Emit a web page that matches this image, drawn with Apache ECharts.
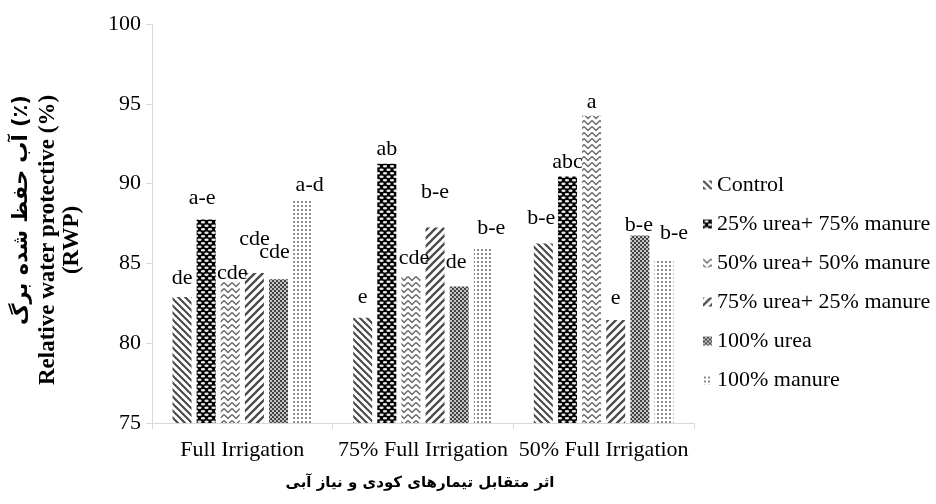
<!DOCTYPE html>
<html>
<head>
<meta charset="utf-8">
<script src="https://cdn.jsdelivr.net/npm/echarts@6/dist/echarts.min.js"></script>
<style>html,body{margin:0;padding:0;background:#fff}#c{width:936px;height:504px}</style>
</head>
<body>
<div id="c"></div>
<script>
const categories = ['Full Irrigation', '75% Full Irrigation', '50% Full Irrigation'];
const seriesNames = ['Control', '25% urea+ 75% manure', '50% urea+ 50% manure', '75% urea+ 25% manure', '100% urea', '100% manure'];
const control   = [82.9, 81.6, 86.25];
const u25m75    = [87.75, 91.25, 90.45];
const u50m50    = [83.9, 84.25, 94.25];
const u75m25    = [84.4, 87.25, 81.45];
const urea100   = [84.0, 83.55, 86.75];
const manure100 = [88.95, 86.0, 85.2];
const letters = [
  ['de', 'e', 'b-e'],
  ['a-e', 'ab', 'abc'],
  ['cde', 'cde', 'a'],
  ['cde', 'b-e', 'e'],
  ['cde', 'de', 'b-e'],
  ['a-d', 'b-e', 'b-e']
];
const yTicks = [75, 80, 85, 90, 95, 100];

// label placement tweaks (not data)
const labelOffsets = [
  [[0,-8],[0,-9],[-2,-14]],
  [[-4,-10],[0,-3],[0,-3]],
  [[2,3],[3,-6],[0,-3]],
  [[0,-23],[0,-24],[0,-11]],
  [[-4,-16],[-3,-13],[-1,1]],
  [[7,-4],[8,-8],[10,-16]]
];

function mk(w, h, draw) {
  const c = document.createElement('canvas');
  c.width = w; c.height = h;
  const g = c.getContext('2d');
  draw(g, w, h);
  return c;
}
const patBack = mk(7, 7, (g, s) => {
  g.fillStyle = '#fff'; g.fillRect(0, 0, s, s);
  g.strokeStyle = '#4a4a4a'; g.lineWidth = 2.1;
  for (let k = -1; k <= 1; k++) { g.beginPath(); g.moveTo(k * s - 1, -1); g.lineTo(k * s + s + 1, s + 1); g.stroke(); }
});
const patOval = mk(7, 7, (g) => {
  g.fillStyle = '#000'; g.fillRect(0, 0, 7, 7);
  g.fillStyle = '#e8e8e8';
  const ov = (x, y) => { g.beginPath(); g.ellipse(x, y, 2.2, 1.2, 0, 0, Math.PI * 2); g.fill(); };
  ov(3.5, 1.75); ov(0, 5.25); ov(7, 5.25);
});
const patZig = mk(8, 6, (g) => {
  g.fillStyle = '#fff'; g.fillRect(0, 0, 8, 6);
  g.strokeStyle = '#6a6a6a'; g.lineWidth = 1.5;
  g.beginPath(); g.moveTo(0, 0.5); g.lineTo(4, 4.5); g.lineTo(8, 0.5); g.stroke();
  g.beginPath(); g.moveTo(0, 6.5); g.lineTo(4, 10.5); g.lineTo(8, 6.5); g.stroke();
  g.beginPath(); g.moveTo(0, -5.5); g.lineTo(4, -1.5); g.lineTo(8, -5.5); g.stroke();
});
const patFwd = mk(8, 8, (g, s) => {
  g.fillStyle = '#fff'; g.fillRect(0, 0, s, s);
  g.strokeStyle = '#4a4a4a'; g.lineWidth = 2.3;
  for (let k = -1; k <= 1; k++) { g.beginPath(); g.moveTo(k * s - 1, s + 1); g.lineTo(k * s + s + 1, -1); g.stroke(); }
});
const patCheck = mk(4, 4, (g) => {
  g.fillStyle = '#c4c4c4'; g.fillRect(0, 0, 4, 4);
  g.fillStyle = '#444'; g.fillRect(0, 0, 2, 2); g.fillRect(2, 2, 2, 2);
});
const patDots = mk(4, 4, (g) => {
  g.fillStyle = '#fff'; g.fillRect(0, 0, 4, 4);
  g.fillStyle = '#8c8c8c'; g.fillRect(1, 1, 2, 2);
});
const patterns = [patBack, patOval, patZig, patFwd, patCheck, patDots];
const values = [control, u25m75, u50m50, u75m25, urea100, manure100];

const serif = "'Liberation Serif', 'Times New Roman', serif";

const series = seriesNames.map((name, i) => ({
  name,
  type: 'bar',
  barWidth: 19,
  barGap: '27%',
  itemStyle: { color: { image: patterns[i], repeat: 'repeat' } },
  data: values[i].map((v, j) => ({
    value: v,
    label: {
      show: true, position: 'top', distance: 0,
      offset: labelOffsets[i][j],
      formatter: letters[i][j],
      fontFamily: serif, fontSize: 22, color: '#000'
    }
  }))
}));

const chart = echarts.init(document.getElementById('c'), null, { renderer: 'canvas' });
chart.setOption({
  animation: false,
  backgroundColor: '#fff',
  grid: { left: 152, right: 242, top: 24, bottom: 81 },
  legend: {
    orient: 'vertical', left: 698, top: 169, itemGap: 17,
    itemWidth: 9, itemHeight: 9, icon: 'rect',
    textStyle: { fontFamily: serif, fontSize: 22, color: '#000', lineHeight: 22 },
    data: seriesNames
  },
  xAxis: {
    type: 'category', data: categories,
    axisLine: { lineStyle: { color: '#d9d9d9', width: 1 } },
    axisTick: { show: true, length: 6, lineStyle: { color: '#d9d9d9' } },
    axisLabel: { interval: 0, margin: 16, fontFamily: serif, fontSize: 22, color: '#000' }
  },
  yAxis: {
    type: 'value', min: 75, max: 100, interval: 5,
    axisLine: { show: true, lineStyle: { color: '#d9d9d9', width: 1 } },
    axisTick: { show: true, length: 6, lineStyle: { color: '#d9d9d9' } },
    splitLine: { show: false },
    axisLabel: { margin: 11, fontFamily: serif, fontSize: 22, color: '#000',
      formatter: (v) => yTicks.includes(v) ? String(v) : '' }
  },
  graphic: [
    { type: 'text', x: 22, y: 210, rotation: Math.PI / 2,
      style: { text: 'آب حفظ شده برگ (٪)', align: 'center', verticalAlign: 'middle',
        font: "bold 21px 'DejaVu Sans'", fill: '#000' } },
    { type: 'text', x: 60, y: 240, rotation: Math.PI / 2,
      style: { text: 'Relative water protective (%)\n(RWP)', align: 'center', verticalAlign: 'middle',
        font: "bold 23px 'Liberation Serif'", lineHeight: 24, fill: '#000' } },
    { type: 'text', x: 420, y: 483,
      style: { text: 'اثر متقابل تیمارهای کودی و نیاز آبی', align: 'center', verticalAlign: 'middle',
        font: "bold 15px 'DejaVu Sans'", fill: '#000' } }
  ],
  series
});
</script>
</body>
</html>
